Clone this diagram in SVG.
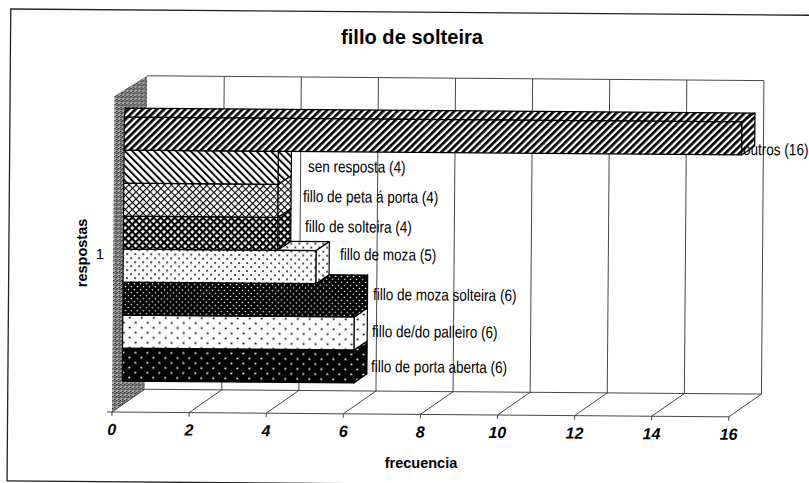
<svg xmlns="http://www.w3.org/2000/svg" width="809" height="483" viewBox="0 0 809 483">
<style>
.grid{stroke:#333;stroke-width:0.9;fill:none}
.bar{stroke:#000;stroke-width:1.2;stroke-linejoin:round}
.lbl{font-family:"Liberation Sans",Arial,sans-serif;font-size:16.5px;fill:#000}
.tick{font-family:"Liberation Sans",Arial,sans-serif;font-size:16px;font-weight:bold;font-style:italic;text-anchor:middle;fill:#000}
.ttl{font-family:"Liberation Sans",Arial,sans-serif;font-size:19.5px;font-weight:bold;text-anchor:middle;fill:#000}
.axt{font-family:"Liberation Sans",Arial,sans-serif;font-size:14.5px;font-weight:bold;text-anchor:middle;fill:#000}
</style>
<defs>
<pattern id="stip" width="4" height="4" patternUnits="userSpaceOnUse">
<rect width="4" height="4" fill="#858585"/>
<rect x="0" y="0" width="1" height="1" fill="#222"/>
<rect x="2" y="3" width="1" height="1" fill="#222"/>
<rect x="3" y="1" width="1" height="1" fill="#444"/>
<rect x="1" y="2" width="1" height="1" fill="#ccc"/>
<rect x="2" y="1" width="1" height="1" fill="#555"/>
<rect x="0" y="3" width="1" height="1" fill="#bbb"/>
</pattern>
<pattern id="p0" width="5" height="5" patternUnits="userSpaceOnUse" patternTransform="rotate(45)">
<rect width="5" height="5" fill="#fff"/><rect width="2.7" height="5" fill="#000"/>
</pattern>
<pattern id="p1" width="5.2" height="5.2" patternUnits="userSpaceOnUse" patternTransform="rotate(-45)">
<rect width="5.2" height="5.2" fill="#fff"/><rect width="1.9" height="5.2" fill="#000"/>
</pattern>
<pattern id="p2" width="5" height="5" patternUnits="userSpaceOnUse" patternTransform="rotate(45)">
<rect width="5" height="5" fill="#fff"/><rect width="1.1" height="5" fill="#000"/><rect width="5" height="1.1" fill="#000"/>
</pattern>
<pattern id="p3" width="5" height="5" patternUnits="userSpaceOnUse" patternTransform="rotate(45)">
<rect width="5" height="5" fill="#fff"/><rect width="2.2" height="5" fill="#000"/><rect width="5" height="2.2" fill="#000"/>
</pattern>
<pattern id="p4" width="8" height="8" patternUnits="userSpaceOnUse">
<rect width="8" height="8" fill="#fff"/><circle cx="2" cy="2" r="0.9" fill="#000"/><circle cx="6" cy="6" r="0.9" fill="#000"/>
</pattern>
<pattern id="p5" width="6" height="6" patternUnits="userSpaceOnUse">
<rect width="6" height="6" fill="#000"/><circle cx="1.5" cy="1.5" r="0.8" fill="#fff"/><circle cx="4.5" cy="4.5" r="0.8" fill="#fff"/>
</pattern>
<pattern id="p6" width="12" height="10" patternUnits="userSpaceOnUse">
<rect width="12" height="10" fill="#fff"/><circle cx="3" cy="2.5" r="1" fill="#000"/><circle cx="9" cy="7.5" r="1" fill="#000"/>
</pattern>
<pattern id="p7" width="12" height="10" patternUnits="userSpaceOnUse">
<rect width="12" height="10" fill="#000"/><circle cx="3" cy="2.5" r="1" fill="#fff"/><circle cx="9" cy="7.5" r="1" fill="#fff"/>
</pattern>
</defs>
<rect width="809" height="483" fill="#fff"/>
<g transform="rotate(0.45 112 412)">
<rect id="frame" x="7.6" y="9.8" width="806" height="472" fill="none" stroke="#222" stroke-width="1.3"/>
<g id="walls">
<polygon points="112,412 112,96 144.5,75.5 144.5,389" fill="url(#stip)"/>
<line class="grid" x1="144.5" y1="75.5" x2="761.3" y2="75.5"/>
<line class="grid" x1="144.5" y1="389" x2="761.3" y2="389"/>
<line class="grid" x1="107" y1="412" x2="729.2" y2="412"/>
</g>
<g id="gridlines" class="grid">
<line x1="221.6" y1="75.5" x2="221.6" y2="389"/>
<line x1="298.7" y1="75.5" x2="298.7" y2="389"/>
<line x1="375.8" y1="75.5" x2="375.8" y2="389"/>
<line x1="452.9" y1="75.5" x2="452.9" y2="389"/>
<line x1="530" y1="75.5" x2="530" y2="389"/>
<line x1="607.1" y1="75.5" x2="607.1" y2="389"/>
<line x1="684.2" y1="75.5" x2="684.2" y2="389"/>
<line x1="761.3" y1="75.5" x2="761.3" y2="389"/>
<line x1="112" y1="412" x2="144.5" y2="389"/>
<line x1="189.1" y1="412" x2="221.6" y2="389"/>
<line x1="266.2" y1="412" x2="298.7" y2="389"/>
<line x1="343.3" y1="412" x2="375.8" y2="389"/>
<line x1="420.4" y1="412" x2="452.9" y2="389"/>
<line x1="497.5" y1="412" x2="530" y2="389"/>
<line x1="574.6" y1="412" x2="607.1" y2="389"/>
<line x1="651.7" y1="412" x2="684.2" y2="389"/>
<line x1="728.8" y1="412" x2="761.3" y2="389"/>
<line x1="112" y1="412" x2="112" y2="416"/>
<line x1="189.1" y1="412" x2="189.1" y2="416"/>
<line x1="266.2" y1="412" x2="266.2" y2="416"/>
<line x1="343.3" y1="412" x2="343.3" y2="416"/>
<line x1="420.4" y1="412" x2="420.4" y2="416"/>
<line x1="497.5" y1="412" x2="497.5" y2="416"/>
<line x1="574.6" y1="412" x2="574.6" y2="416"/>
<line x1="651.7" y1="412" x2="651.7" y2="416"/>
<line x1="728.8" y1="412" x2="728.8" y2="416"/>
</g>
<g id="bars" class="bar">
<g id="bar-porta-aberta" fill="url(#p7)">
<polygon points="122,348 123,339 366.6,339 353.6,348"/>
<rect x="122" y="348" width="231.6" height="33"/>
<polygon points="353.6,348 366.6,339 366.6,372 353.6,381"/>
</g>
<g id="bar-palleiro" fill="url(#p6)">
<polygon points="122,315 123,306 366.6,306 353.6,315"/>
<rect x="122" y="315" width="231.6" height="33"/>
<polygon points="353.6,315 366.6,306 366.6,339 353.6,348"/>
</g>
<g id="bar-moza-solteira" fill="url(#p5)">
<polygon points="122,282 123,273 366.6,273 353.6,282"/>
<rect x="122" y="282" width="231.6" height="33"/>
<polygon points="353.6,282 366.6,273 366.6,306 353.6,315"/>
</g>
<g id="bar-moza" fill="url(#p4)">
<polygon points="122,249 123,240 328,240 315,249"/>
<rect x="122" y="249" width="193" height="33"/>
<polygon points="315,249 328,240 328,273 315,282"/>
</g>
<g id="bar-solteira" fill="url(#p3)">
<polygon points="122,216 123,207 289.4,207 276.4,216"/>
<rect x="122" y="216" width="154.4" height="33"/>
<polygon points="276.4,216 289.4,207 289.4,240 276.4,249"/>
</g>
<g id="bar-peta" fill="url(#p2)">
<polygon points="122,183 123,174 289.4,174 276.4,183"/>
<rect x="122" y="183" width="154.4" height="33"/>
<polygon points="276.4,183 289.4,174 289.4,207 276.4,216"/>
</g>
<g id="bar-sen-resposta" fill="url(#p1)">
<polygon points="122,150 123,141 289.4,141 276.4,150"/>
<rect x="122" y="150" width="154.4" height="33"/>
<polygon points="276.4,150 289.4,141 289.4,174 276.4,183"/>
</g>
<g id="bar-outros" fill="url(#p0)">
<polygon points="122,117 123,108 752.6,108 739.6,117"/>
<rect x="122" y="117" width="617.6" height="33"/>
<polygon points="739.6,117 752.6,108 752.6,141 739.6,150"/>
</g>
</g>
<g id="bar-labels">
<text class="lbl" transform="translate(741,150) scale(0.82 1)">outros (16)</text>
<text class="lbl" transform="translate(306,170.5) scale(0.82 1)">sen resposta (4)</text>
<text class="lbl" transform="translate(301.4,200.5) scale(0.82 1)">fillo de peta á porta (4)</text>
<text class="lbl" transform="translate(303.6,230.5) scale(0.82 1)">fillo de solteira (4)</text>
<text class="lbl" transform="translate(338.8,258.2) scale(0.82 1)">fillo de moza (5)</text>
<text class="lbl" transform="translate(372,298) scale(0.82 1)">fillo de moza solteira (6)</text>
<text class="lbl" transform="translate(371.4,335) scale(0.82 1)">fillo de/do palleiro (6)</text>
<text class="lbl" transform="translate(370.7,370) scale(0.82 1)">fillo de porta aberta (6)</text>
</g>
<g id="tick-labels">
<text class="tick" x="112" y="435">0</text>
<text class="tick" x="189.1" y="435">2</text>
<text class="tick" x="266.2" y="435">4</text>
<text class="tick" x="343.3" y="435">6</text>
<text class="tick" x="420.4" y="435">8</text>
<text class="tick" x="497.5" y="435">10</text>
<text class="tick" x="574.6" y="435">12</text>
<text class="tick" x="651.7" y="435">14</text>
<text class="tick" x="728.8" y="435">16</text>
</g>
</g>
<text id="title" class="ttl" x="412" y="44" textLength="142" lengthAdjust="spacingAndGlyphs">fillo de solteira</text>
<text id="y-title" class="axt" transform="translate(87,253) rotate(-90)">respostas</text>
<text id="y-cat" x="100" y="258.5" style="font-family:'Liberation Sans',Arial,sans-serif;font-size:15px;text-anchor:middle">1</text>
<text id="x-title" class="axt" x="421" y="468">frecuencia</text>
</svg>
